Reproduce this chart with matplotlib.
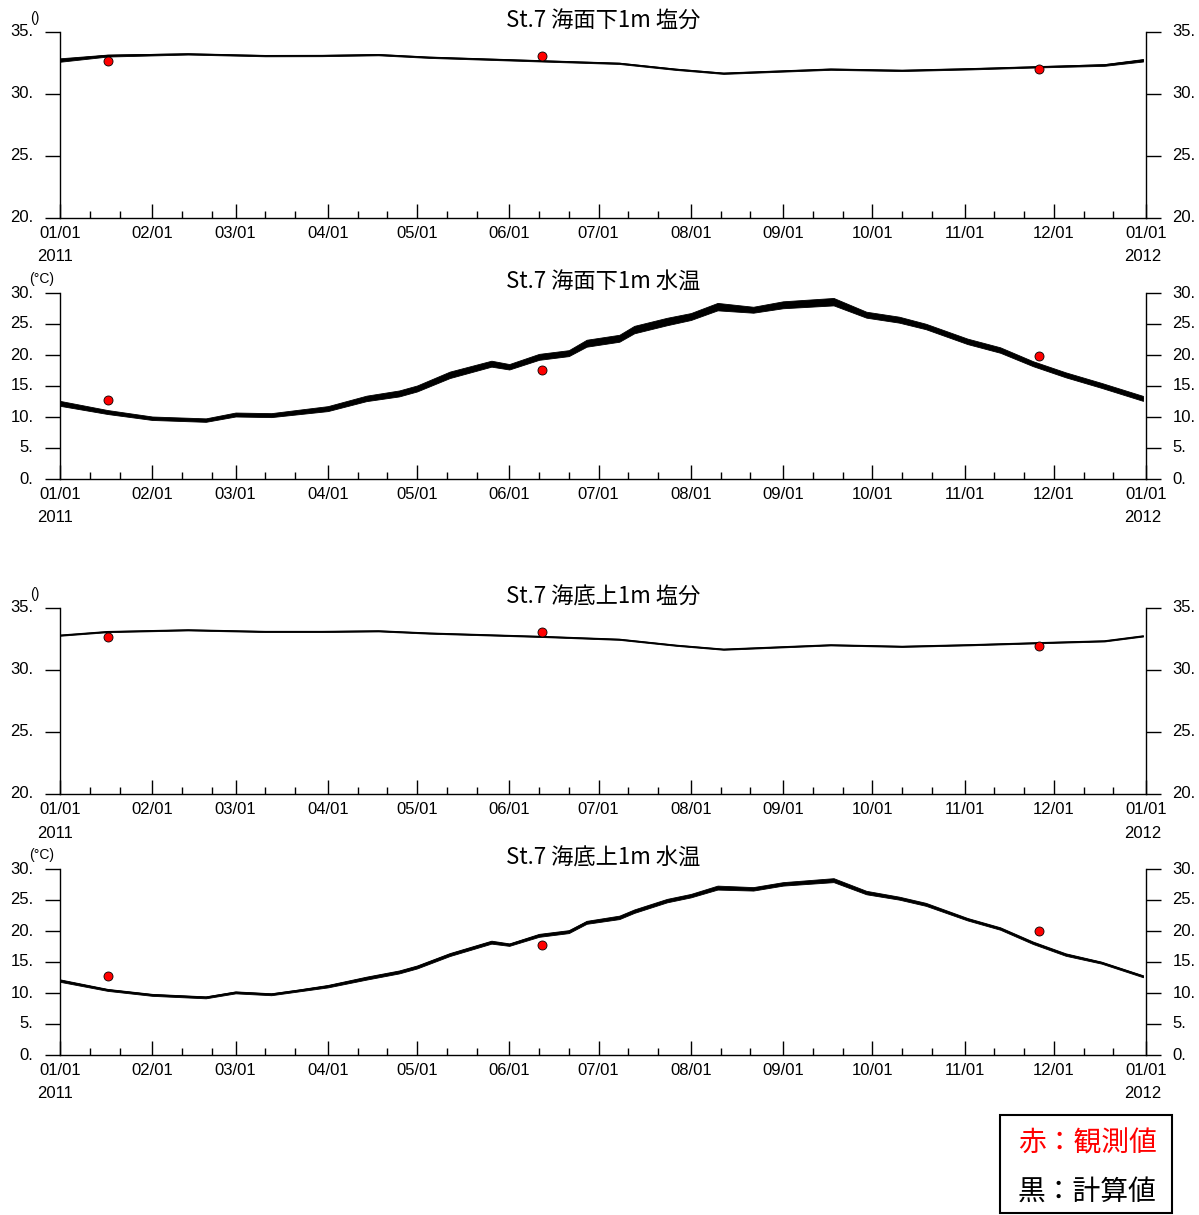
import numpy as np
import matplotlib
matplotlib.use("Agg")
import matplotlib.pyplot as plt
import matplotlib.dates as mdates
from matplotlib.patches import Rectangle

plt.rcParams['font.family'] = ['Liberation Sans', 'Noto Sans CJK JP', 'DejaVu Sans']

# ---------------- data ----------------
titles = ["St.7 海面下1m 塩分", "St.7 海面下1m 水温", "St.7 海底上1m 塩分", "St.7 海底上1m 水温"]
units = ["()", "(°C)", "()", "(°C)"]

obs_dates = ["2011-01-17", "2011-06-12", "2011-11-26"]
obs_sal_surface = [32.7, 33.06, 32.0]
obs_temp_surface = [12.7, 17.6, 19.8]
obs_sal_bottom = [32.7, 33.06, 31.9]
obs_temp_bottom = [12.7, 17.7, 20.0]

sal_dates = ["2011-01-01", "2011-01-17", "2011-02-13", "2011-03-11", "2011-03-30",
             "2011-04-18", "2011-05-05", "2011-06-13", "2011-07-08", "2011-07-27",
             "2011-08-12", "2011-09-17", "2011-10-11", "2011-11-03", "2011-11-27",
             "2011-12-18", "2011-12-31"]
sal_surface = [32.74, 33.1, 33.23, 33.09, 33.1, 33.17, 32.96, 32.66, 32.47, 31.99,
               31.67, 32.0, 31.9, 32.03, 32.2, 32.34, 32.72]
sal_surface_spread = [0.14, 0.08, 0.05, 0.05, 0.05, 0.05, 0.05, 0.05, 0.05, 0.05,
                      0.05, 0.05, 0.05, 0.05, 0.05, 0.07, 0.1]
sal_bottom = [32.8, 33.09, 33.23, 33.1, 33.1, 33.15, 32.97, 32.69, 32.47, 31.99,
              31.67, 32.02, 31.9, 32.03, 32.2, 32.34, 32.74]
sal_bottom_spread = [0.04, 0.04, 0.04, 0.04, 0.04, 0.04, 0.04, 0.04, 0.04, 0.04,
                     0.04, 0.04, 0.04, 0.04, 0.04, 0.04, 0.04]

temp_dates = ["2011-01-01", "2011-01-17", "2011-02-01", "2011-02-19", "2011-03-01",
              "2011-03-13", "2011-03-22", "2011-04-01", "2011-04-14", "2011-04-25",
              "2011-05-01", "2011-05-12", "2011-05-26", "2011-06-01", "2011-06-11",
              "2011-06-21", "2011-06-27", "2011-07-08", "2011-07-13", "2011-07-24",
              "2011-08-01", "2011-08-10", "2011-08-22", "2011-09-01", "2011-09-18",
              "2011-09-29", "2011-10-10", "2011-10-19", "2011-11-02", "2011-11-13",
              "2011-11-24", "2011-12-05", "2011-12-17", "2011-12-31"]
temp_surface = [12.2, 10.8, 9.8, 9.5, 10.4, 10.3, 10.8, 11.35, 13.0, 13.8,
                14.6, 16.8, 18.6, 18.1, 19.7, 20.3, 21.9, 22.7, 24.1, 25.4,
                26.2, 27.8, 27.3, 28.1, 28.6, 26.5, 25.7, 24.6, 22.2, 20.8,
                18.6, 16.8, 15.1, 13.0]
temp_surface_spread = [0.4, 0.32, 0.28, 0.28, 0.32, 0.32, 0.36, 0.4, 0.44, 0.48,
                       0.48, 0.52, 0.48, 0.44, 0.48, 0.48, 0.56, 0.56, 0.6, 0.6,
                       0.56, 0.6, 0.48, 0.56, 0.6, 0.48, 0.48, 0.44, 0.44, 0.44,
                       0.4, 0.4, 0.4, 0.4]
temp_bottom = [12.0, 10.5, 9.7, 9.3, 10.1, 9.8, 10.4, 11.1, 12.4, 13.4,
               14.2, 16.2, 18.2, 17.8, 19.3, 19.9, 21.4, 22.2, 23.2, 24.9,
               25.7, 27.0, 26.8, 27.6, 28.2, 26.2, 25.3, 24.3, 21.9, 20.4,
               18.1, 16.2, 14.9, 12.7]
temp_bottom_spread = [0.2, 0.16, 0.16, 0.16, 0.16, 0.16, 0.16, 0.2, 0.24, 0.24,
                      0.24, 0.24, 0.24, 0.2, 0.24, 0.24, 0.24, 0.28, 0.28, 0.28,
                      0.28, 0.32, 0.28, 0.28, 0.32, 0.28, 0.24, 0.24, 0.2, 0.2,
                      0.2, 0.2, 0.16, 0.16]

ylims = [(20, 35), (0, 30), (20, 35), (0, 30)]
yticks = [[20, 25, 30, 35], [0, 5, 10, 15, 20, 25, 30],
          [20, 25, 30, 35], [0, 5, 10, 15, 20, 25, 30]]

panels = [
    (sal_dates, sal_surface, sal_surface_spread, obs_sal_surface),
    (temp_dates, temp_surface, temp_surface_spread, obs_temp_surface),
    (sal_dates, sal_bottom, sal_bottom_spread, obs_sal_bottom),
    (temp_dates, temp_bottom, temp_bottom_spread, obs_temp_bottom),
]

# ---------------- figure ----------------
W, H = 1199, 1215
fig = plt.figure(figsize=(W / 100, H / 100), dpi=100)

ax_left, ax_right = 60, 1146
ax_w = ax_right - ax_left
tops = [32, 293, 608, 869]
ax_h = 186

xmin = np.datetime64("2011-01-01")
xmax = np.datetime64("2012-01-01")

for i, (dts, vals, spread, obs) in enumerate(panels):
    top = tops[i]
    ax = fig.add_axes([ax_left / W, 1 - (top + ax_h) / H, ax_w / W, ax_h / H])
    d = np.array(dts, dtype="datetime64[D]")
    v = np.array(vals)
    s = np.array(spread)
    ax.fill_between(d, v - s, v + s, color="black", lw=0.6)
    ax.plot(d, v, color="black", lw=1.0)
    od = np.array(obs_dates, dtype="datetime64[D]")
    ax.plot(od, obs, linestyle="none", marker="o", markersize=6.5,
            markerfacecolor="red", markeredgecolor="black", markeredgewidth=0.6, zorder=5)

    ax.set_xlim(xmin, xmax)
    ax.set_ylim(*ylims[i])
    ax.set_yticks(yticks[i])
    ax.set_yticklabels([f"{t}." for t in yticks[i]])
    ax.xaxis.set_major_locator(mdates.MonthLocator())
    ax.xaxis.set_minor_locator(mdates.DayLocator(bymonthday=[11, 21]))
    ax.xaxis.set_major_formatter(mdates.DateFormatter("%m/%d"))

    ax.spines["top"].set_visible(False)
    for sp in ["left", "right", "bottom"]:
        ax.spines[sp].set_linewidth(1.0)
    ax.tick_params(axis="x", which="major", direction="in", length=10, width=1.0,
                   labelsize=12, pad=6)
    ax.tick_params(axis="x", which="minor", direction="in", length=5, width=1.0)
    ax.tick_params(axis="y", which="major", direction="out", length=11, width=1.0,
                   left=True, right=True, labelleft=True, labelright=True,
                   labelsize=12, pad=8)
    for lab in ax.get_yticklabels():
        lab.set_verticalalignment("center")

    # titles
    ax.text(0.5, 1 + 11 / ax_h, titles[i], transform=ax.transAxes, ha="center",
            va="center", fontsize=16, family=["Noto Sans CJK JP", "DejaVu Sans"])
    # units
    ux = (35 - ax_left) / ax_w if units[i] == "()" else (42 - ax_left) / ax_w
    ax.text(ux, 1 + 14 / ax_h, units[i], transform=ax.transAxes, ha="center",
            va="center", fontsize=10)
    # years
    ax.text((55 - ax_left) / ax_w, -39 / ax_h, "2011", transform=ax.transAxes,
            ha="center", va="center", fontsize=12)
    ax.text((1143 - ax_left) / ax_w, -39 / ax_h, "2012", transform=ax.transAxes,
            ha="center", va="center", fontsize=12)

# legend box
fig.patches.append(Rectangle((1000 / W, 1 - 1213 / H), 172 / W, 98 / H,
                             transform=fig.transFigure, fill=False,
                             edgecolor="black", linewidth=1.5))
fig.text(1087 / W, 1 - 1144 / H, "赤：観測値", color="red", ha="center", va="center",
         fontsize=20, family=["Noto Sans CJK JP", "DejaVu Sans"])
fig.text(1087 / W, 1 - 1192 / H, "黒：計算値", color="black", ha="center", va="center",
         fontsize=20, family=["Noto Sans CJK JP", "DejaVu Sans"])

fig.savefig("out.png", dpi=100, facecolor="white")
